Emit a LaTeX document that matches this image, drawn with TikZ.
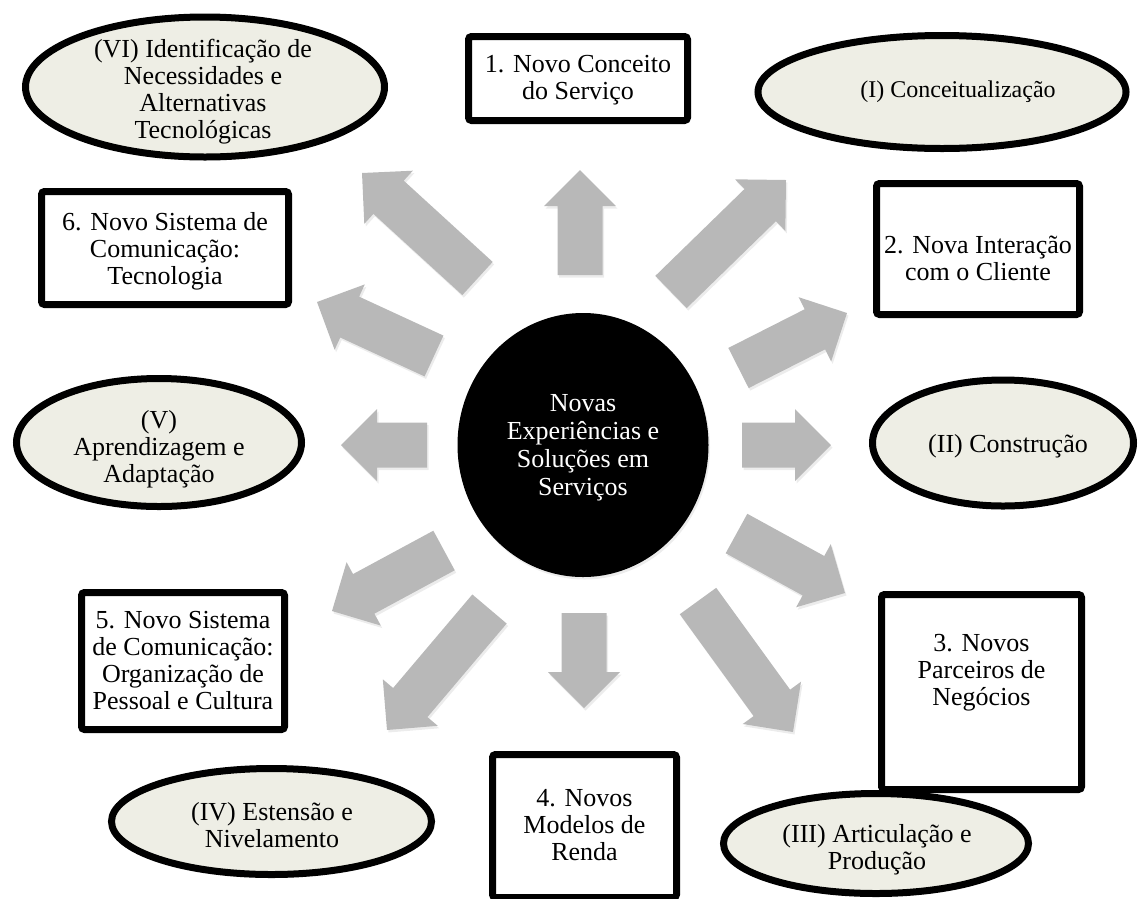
\documentclass[tikz,border=0pt]{standalone}
\usepackage{fontspec}
\setmainfont{Liberation Serif}
\usetikzlibrary{calc,shapes.geometric,shadows}

\definecolor{stagefill}{RGB}{238,238,229}
\definecolor{arrowgray}{RGB}{184,184,184}

\tikzset{
  softshadow/.style={drop shadow={shadow xshift=1.5pt,shadow yshift=-2.5pt,opacity=0.15}},
  stage/.style={ellipse, draw=black, line width=7pt, fill=stagefill, inner sep=0pt, softshadow},
  dimbox/.style={rectangle, rounded corners=3pt, draw=black, line width=7pt, fill=white, inner sep=0pt, softshadow},
  hub/.style={ellipse, fill=black, inner sep=0pt, softshadow},
  txt/.style={align=center, inner sep=0pt, font=\fontsize{26}{27}\selectfont},
}

% block arrow from a tail coordinate to a tip coordinate
\newcommand{\radialarrow}[2]{%
  \fill[arrowgray, softshadow]
    ($(#1)!22.5pt!90:(#2)$)
    -- ($(#2)!36pt!(#1)!22.5pt!-90:(#1)$)
    -- ($(#2)!36pt!(#1)!36pt!-90:(#1)$)
    -- (#2)
    -- ($(#2)!36pt!(#1)!36pt!90:(#1)$)
    -- ($(#2)!36pt!(#1)!22.5pt!90:(#1)$)
    -- ($(#1)!22.5pt!-90:(#2)$)
    -- cycle;%
}

\begin{document}
\begin{tikzpicture}[x=1pt,y=-1pt]
\useasboundingbox (0,0) rectangle (1138,898);

% central hub
\node[hub, minimum width=251pt, minimum height=264pt] (hub) at (583,445) {};
\node[txt, text=white, font=\fontsize{26}{28}\selectfont] (hub-t) at (583,448)
  {Novas\\Experiências e\\Soluções em\\Serviços};

% stages (ellipses)
\node[stage, minimum width=359pt, minimum height=140pt] (s6) at (205,87) {};
\node[txt] (s6-t) at (203,92) {(VI) Identificação de\\Necessidades e\\Alternativas\\Tecnológicas};

\node[stage, minimum width=368pt, minimum height=113pt] (s1) at (942,92) {};
\node[txt, font=\fontsize{24}{27}\selectfont] (s1-t) at (958,92) {(I) Conceitualização};

\node[stage, minimum width=261pt, minimum height=126pt] (s2) at (1003,443) {};
\node[txt] (s2-t) at (1008,446) {(II) Construção};

\node[stage, minimum width=305pt, minimum height=100pt] (s3) at (876,843.5) {};
\node[txt] (s3-t) at (877,850) {(III) Articulação e\\Produção};

\node[stage, minimum width=320pt, minimum height=106pt] (s4) at (271.5,821.5) {};
\node[txt] (s4-t) at (272,825) {(IV) Estensão e\\Nivelamento};

\node[stage, minimum width=285pt, minimum height=128pt] (s5) at (159,442.5) {};
\node[txt] (s5-t) at (159,449) {(V)\\Aprendizagem e\\Adaptação};

% dimensions (boxes)
\node[dimbox, minimum width=219pt, minimum height=84pt] (d1) at (578,78.5) {};
\node[txt] (d1-t) at (578,80) {1. Novo Conceito\\do Serviço};

\node[dimbox, minimum width=203pt, minimum height=131pt] (d2) at (978,249) {};
\node[txt] (d2-t) at (978,258) {2. Nova Interação\\com o Cliente};

\node[dimbox, minimum width=200pt, minimum height=195pt] (d3) at (981.5,692) {};
\node[txt] (d3-t) at (981.5,673) {3. Novos\\Parceiros de\\Negócios};

\node[dimbox, minimum width=184pt, minimum height=143pt] (d4) at (584.5,826) {};
\node[txt] (d4-t) at (584.5,825) {4. Novos\\Modelos de\\Renda};

\node[dimbox, minimum width=203pt, minimum height=137pt] (d5) at (183,661) {};
\node[txt] (d5-t) at (183,661) {5. Novo Sistema\\de Comunicação:\\Organização de\\Pessoal e Cultura};

\node[dimbox, minimum width=247pt, minimum height=113pt] (d6) at (165,248) {};
\node[txt] (d6-t) at (165,251) {6. Novo Sistema de\\Comunicação:\\Tecnologia};

% arrow tails and tips
\coordinate (a1-t) at (580,275);   \coordinate (a1-h) at (580,170);
\coordinate (a2-t) at (671,292);   \coordinate (a2-h) at (786,180);
\coordinate (a3-t) at (738.5,368); \coordinate (a3-h) at (847,313);
\coordinate (a4-t) at (742,445);   \coordinate (a4-h) at (831,445);
\coordinate (a5-t) at (736.5,533.5); \coordinate (a5-h) at (845,593);
\coordinate (a6-t) at (698,601);   \coordinate (a6-h) at (793,732);
\coordinate (a7-t) at (584,613);   \coordinate (a7-h) at (584,708);
\coordinate (a8-t) at (489.5,609); \coordinate (a8-h) at (387,730);
\coordinate (a9-t) at (444,550.5); \coordinate (a9-h) at (332,611);
\coordinate (a10-t) at (427,445);  \coordinate (a10-h) at (341,445);
\coordinate (a11-t) at (434,356);  \coordinate (a11-h) at (317,302);
\coordinate (a12-t) at (477.5,278.5); \coordinate (a12-h) at (362,173);

\foreach \k in {1,...,12} {\radialarrow{a\k-t}{a\k-h}}
\end{tikzpicture}
\end{document}
